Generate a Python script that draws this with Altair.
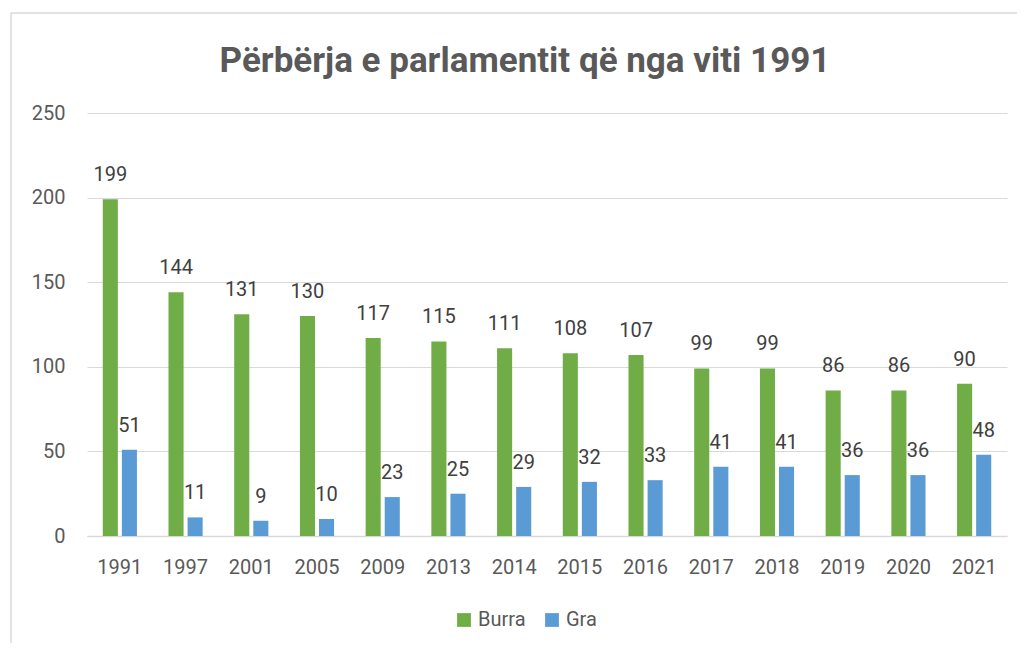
import altair as alt
import pandas as pd

years = ["1991", "1997", "2001", "2005", "2009", "2013", "2014",
         "2015", "2016", "2017", "2018", "2019", "2020", "2021"]
burra = [199, 144, 131, 130, 117, 115, 111, 108, 107, 99, 99, 86, 86, 90]
gra = [51, 11, 9, 10, 23, 25, 29, 32, 33, 41, 41, 36, 36, 48]
series = ["Burra", "Gra"]
colors = ["#70AD47", "#5B9BD5"]
y_ticks = [0, 50, 100, 150, 200, 250]
title_text = "Përbërja e parlamentit që nga viti 1991"

rows = []
for yr, b, g in zip(years, burra, gra):
    rows.append({"year": yr, "series": "Burra", "value": b})
    rows.append({"year": yr, "series": "Gra", "value": g})
df = pd.DataFrame(rows)

FONT = "Roboto"

x_enc = alt.X(
    "year:N", sort=years, title=None,
    scale=alt.Scale(paddingInner=0.48, paddingOuter=0.24),
    axis=alt.Axis(labelAngle=0, ticks=False, domain=True, domainColor="#D9D9D9",
                  domainWidth=1.5, labelFontSize=20, labelColor="#595959",
                  labelPadding=21, labelFont=FONT, grid=False),
)
y_enc = alt.Y(
    "value:Q", title=None,
    scale=alt.Scale(domain=[0, 250], nice=False),
    axis=alt.Axis(values=y_ticks, ticks=False, domain=False, grid=True,
                  gridColor="#D9D9D9", gridWidth=1.2, labelFontSize=20,
                  labelColor="#595959", labelPadding=22, labelFont=FONT),
)
xoff = alt.XOffset("series:N", sort=series, scale=alt.Scale(paddingInner=0.21))

base = alt.Chart(df).encode(x=x_enc, y=y_enc, xOffset=xoff)

bars = base.mark_bar().encode(
    color=alt.Color(
        "series:N", sort=series,
        scale=alt.Scale(domain=series, range=colors),
        legend=alt.Legend(title=None, orient="none", direction="horizontal",
                          legendX=367, legendY=497, symbolType="square",
                          symbolSize=190, symbolStrokeWidth=0,
                          labelFontSize=20, labelColor="#595959",
                          labelFont=FONT, columnPadding=16, labelOffset=4),
    )
)

labels = base.mark_text(baseline="alphabetic", dy=-18, fontSize=20,
                        color="#404040", font=FONT).encode(
    text=alt.Text("value:Q")
)

frame_df = pd.DataFrame({"k": [0]})
frame_v = alt.Chart(frame_df).mark_rule(color="#D9D9D9", strokeWidth=1.5).encode(
    x=alt.value(-76), y=alt.value(-100), y2=alt.value(700)
)
frame_h = alt.Chart(frame_df).mark_rule(color="#D9D9D9", strokeWidth=1.5).encode(
    x=alt.value(-76), x2=alt.value(1200), y=alt.value(-100)
)

chart = alt.layer(frame_v, frame_h, bars, labels).properties(
    width=920, height=423,
    title=alt.TitleParams(title_text, fontSize=35, fontWeight="bold",
                          color="#595959", font=FONT, offset=22, dy=89, dx=-22,
                          anchor="middle"),
    autosize=alt.AutoSizeParams(type="none"),
    padding={"left": 79, "top": 105, "right": 10, "bottom": 107},
).configure(font=FONT).configure_view(stroke=None)

chart.save("out.html", embed_options={"renderer": "svg", "actions": False})
